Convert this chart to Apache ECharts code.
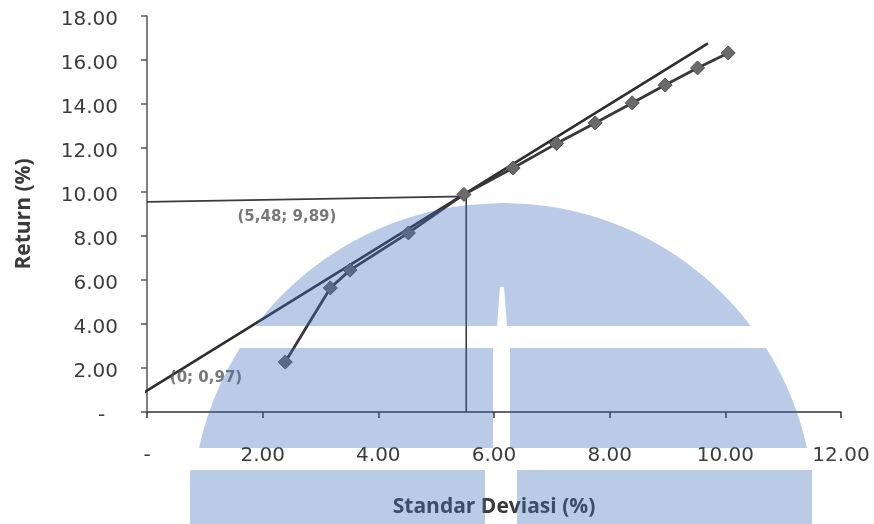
<!DOCTYPE html>
<html><head><meta charset="utf-8">
<script src="https://cdn.jsdelivr.net/npm/echarts/dist/echarts.min.js"></script>
<style>html,body{margin:0;padding:0;background:#fff}#c{width:874px;height:524px}</style>
</head><body><div id="c"></div>
<script>
// Efficient frontier (standard deviation %, return %)
const frontierX = [2.39, 3.17, 3.51, 4.52, 5.48, 6.33, 7.08, 7.75, 8.39, 8.96, 9.52, 10.05];
const frontierY = [2.27, 5.64, 6.45, 8.14, 9.89, 11.09, 12.2, 13.14, 14.05, 14.86, 15.64, 16.32];
// Capital market line
const cmlX = [-0.12, 0, 5.48, 9.7];
const cmlY = [0.77, 0.97, 9.89, 16.76];
// Guide lines to the tangency point
const guideX = [0, 5.52, 5.52];
const guideY = [9.55, 9.8, 0];
// Annotated points
const noteX = [0, 5.48];
const noteY = [0.97, 9.89];
const noteText = ['(0; 0,97)', '(5,48; 9,89)'];
// Tick labels
const xTickValues = [0, 2, 4, 6, 8, 10, 12];
const xTickLabels = ['-', '2.00', '4.00', '6.00', '8.00', '10.00', '12.00'];
const yTickValues = [0, 2, 4, 6, 8, 10, 12, 14, 16, 18];
const yTickLabels = ['-  ', '2.00', '4.00', '6.00', '8.00', '10.00', '12.00', '14.00', '16.00', '18.00'];
const xTitle = 'Standar Deviasi (%)';
const yTitle = 'Return (%)';

const zip = (a, b) => a.map((v, i) => [v, b[i]]);
const lookup = (vals, labs, wrap) => v => {
  const i = vals.findIndex(t => Math.abs(t - v) < 1e-9);
  const s = i >= 0 ? labs[i] : '';
  return wrap ? '{a|' + s + '}' : s;
};

// Watermark (background scan artefact) as translucent shapes
const WM = 'rgba(60,110,185,0.36)';
const cx = 503, cy = 514, r = 311;
function half(y, side) { const d = r * r - (y - cy) * (y - cy); return cx + side * Math.sqrt(Math.max(0, d)); }
function bandPoly(y1, y2, xa, xb) {
  const pts = [];
  for (let y = y1; y <= y2; y += 2) pts.push([Math.max(xa, half(y, -1)), y]);
  for (let y = y2; y >= y1; y -= 2) pts.push([Math.min(xb, half(y, 1)), y]);
  return pts;
}
function topPoly() {
  const pts = [];
  for (let y = 203; y <= 326; y += 2) pts.push([half(y, -1), y]);
  pts.push([half(326, -1), 326]);
  pts.push([497, 326]); pts.push([500, 287]); pts.push([504, 287]); pts.push([507, 326]);
  pts.push([half(326, 1), 326]);
  for (let y = 326; y >= 203; y -= 2) pts.push([half(y, 1), y]);
  return pts;
}
const wmShapes = [
  topPoly(),
  bandPoly(348, 448, 0, 493),
  bandPoly(348, 448, 510, 2000),
  [[190, 470], [485, 470], [485, 524], [190, 524]],
  [[517, 470], [812, 470], [812, 524], [517, 524]]
].map(p => ({ type: 'polygon', shape: { points: p }, style: { fill: WM }, z: 100, silent: true }));

const chart = echarts.init(document.getElementById('c'), null, { renderer: 'canvas' });
chart.setOption({
  backgroundColor: '#ffffff',
  animation: false,
  grid: { left: 147, right: 33, top: 16, bottom: 112, containLabel: false },
  xAxis: {
    type: 'value', min: 0, max: 12, interval: 2,
    name: xTitle, nameLocation: 'middle', nameGap: 85,
    nameTextStyle: { fontFamily: 'Open Sans', fontWeight: 'bold', fontSize: 21, color: '#3a3a3a' },
    axisLine: { show: true, onZero: false, lineStyle: { color: '#333', width: 1.5 } },
    axisTick: { show: true, inside: false, length: 6, lineStyle: { color: '#333', width: 1.5 } },
    axisLabel: { margin: 34, fontFamily: 'DejaVu Sans', fontSize: 20, color: '#3c3c3c', formatter: lookup(xTickValues, xTickLabels), showMinLabel: true, showMaxLabel: true },
    splitLine: { show: false }
  },
  yAxis: {
    type: 'value', min: 0, max: 18, interval: 2,
    name: yTitle, nameLocation: 'middle', nameGap: 112, nameRotate: 90,
    nameTextStyle: { fontFamily: 'Open Sans', fontWeight: 'bold', fontSize: 21, color: '#3a3a3a' },
    axisLine: { show: true, onZero: false, lineStyle: { color: '#555', width: 1.5 } },
    axisTick: { show: true, inside: false, length: 6, lineStyle: { color: '#555', width: 1.5 } },
    axisLabel: {
      margin: 29, fontFamily: 'DejaVu Sans', fontSize: 20, color: '#3c3c3c',
      formatter: lookup(yTickValues, yTickLabels, true), showMinLabel: true, showMaxLabel: true,
      rich: { a: { fontFamily: 'DejaVu Sans', fontSize: 20, color: '#3c3c3c', padding: [7, 0, 0, 0] } }
    },
    splitLine: { show: false }
  },
  series: [
    {
      type: 'line', data: zip(cmlX, cmlY), clip: false, showSymbol: false, symbol: 'none',
      lineStyle: { color: '#2e2e2e', width: 2.6 }, z: 3
    },
    {
      type: 'line', data: zip(guideX, guideY), clip: false, showSymbol: false, symbol: 'none',
      lineStyle: { color: '#3a3a3a', width: 1.6 }, z: 2
    },
    {
      type: 'line', data: zip(frontierX, frontierY), symbol: 'diamond', symbolSize: 14, showSymbol: true,
      lineStyle: { color: '#383838', width: 2.8 },
      itemStyle: { color: '#6a6a6a', borderColor: '#505050', borderWidth: 1 }, z: 4
    },
    {
      type: 'scatter', symbolSize: 0, silent: true, z: 5,
      data: zip(noteX, noteY).map((p, i) => ({
        value: p,
        label: {
          show: true, position: 'inside', formatter: noteText[i],
          offset: i === 0 ? [59, -13] : [-177, 23],
          fontFamily: 'DejaVu Sans', fontWeight: 'bold', fontSize: 15, color: '#555555'
        }
      }))
    }
  ],
  graphic: wmShapes
});
</script>
</body></html>
